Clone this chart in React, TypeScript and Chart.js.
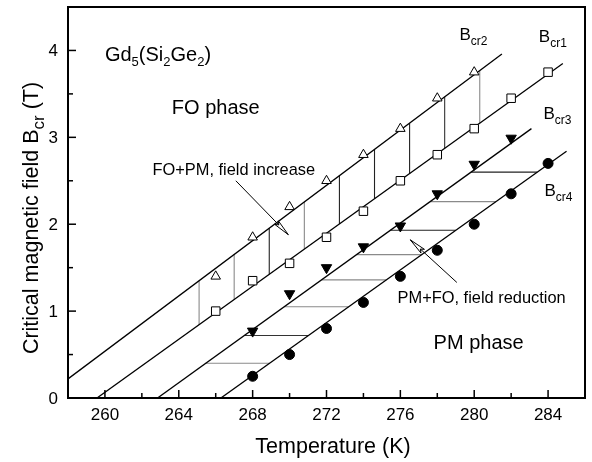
import React, { useEffect, useRef } from "react";
import { Chart, registerables } from "chart.js";

Chart.register(...registerables);

// ---------- data ----------
const xTickValues = [260, 264, 268, 272, 276, 280, 284];
const yTickValues = [0, 1, 2, 3, 4];
const X_RANGE = [258, 286];
const Y_RANGE = [0, 4.5];

// B_cr2 (open up-triangles)
const bcr2T = [266, 268, 270, 272, 274, 276, 278, 280];
const bcr2B = [1.4, 1.85, 2.2, 2.5, 2.8, 3.1, 3.45, 3.75];
// B_cr1 (open squares)
const bcr1T = [266, 268, 270, 272, 274, 276, 278, 280, 282, 284];
const bcr1B = [1.0, 1.35, 1.55, 1.85, 2.15, 2.5, 2.8, 3.1, 3.45, 3.75];
// B_cr3 (filled down-triangles)
const bcr3T = [268, 270, 272, 274, 276, 278, 280, 282];
const bcr3B = [0.77, 1.2, 1.5, 1.74, 1.98, 2.35, 2.69, 2.99];
// B_cr4 (filled circles)
const bcr4T = [268, 270, 272, 274, 276, 278, 280, 282, 284];
const bcr4B = [0.25, 0.5, 0.8, 1.1, 1.4, 1.7, 2.0, 2.35, 2.7];

// fitted straight lines: [T start, B start, T end, B end]
const fitBcr2 = [258, 0.22, 281.5, 3.96];
const fitBcr1 = [259.57, 0, 284.8, 3.85];
const fitBcr3 = [262.85, 0, 283.1, 3.1];
const fitBcr4 = [266.28, 0, 285.0, 2.84];

// hatch: vertical lines (FO+PM, field increase) between Bcr1 and Bcr2
const hatchT = [265.1, 267.0, 268.9, 270.8, 272.7, 274.6, 276.5, 278.4, 280.3];
// hatch: horizontal lines (PM+FO, field reduction) between Bcr3 and Bcr4
const hatchB = [0.4, 0.72, 1.05, 1.36, 1.65, 1.93, 2.26, 2.6];

// ---------- styles ----------
const FONT = '"Liberation Sans", Arial, Helvetica, sans-serif';
const hatchTShade = ["#8a8a8a", "#8a8a8a", "#222", "#8a8a8a", "#222", "#222", "#222", "#333", "#8a8a8a"];
const hatchBShade = ["#8a8a8a", "#333", "#8a8a8a", "#8a8a8a", "#8a8a8a", "#222", "#8a8a8a", "#222"];

function lineAtT(f: number[], t: number) {
  return f[1] + ((f[3] - f[1]) / (f[2] - f[0])) * (t - f[0]);
}
function lineAtB(f: number[], b: number) {
  return f[0] + ((f[2] - f[0]) / (f[3] - f[1])) * (b - f[1]);
}
function pts(t: number[], b: number[]) {
  return t.map((v, i) => ({ x: v, y: b[i] }));
}

type Seg = { t: string; sub?: boolean };

function drawRich(ctx: CanvasRenderingContext2D, segs: Seg[], x: number, y: number, size: number, align: string, subSize?: number) {
  const ss = subSize || Math.round(size * 0.68);
  const widths = segs.map((s) => {
    ctx.font = `${s.sub ? ss : size}px ${FONT}`;
    return ctx.measureText(s.t).width;
  });
  const total = widths.reduce((a, b) => a + b, 0);
  let cx = align === "center" ? x - total / 2 : align === "right" ? x - total : x;
  ctx.textAlign = "left";
  ctx.textBaseline = "alphabetic";
  segs.forEach((s, i) => {
    ctx.font = `${s.sub ? ss : size}px ${FONT}`;
    ctx.fillText(s.t, cx, s.sub ? y + size * 0.28 : y);
    cx += widths[i];
  });
}

function arrow(ctx: CanvasRenderingContext2D, x0: number, y0: number, x1: number, y1: number) {
  ctx.beginPath();
  ctx.moveTo(x0, y0);
  ctx.lineTo(x1, y1);
  ctx.stroke();
  const a = Math.atan2(y1 - y0, x1 - x0);
  const L = 17, W = 0.15;
  ctx.beginPath();
  ctx.moveTo(x1, y1);
  ctx.lineTo(x1 - L * Math.cos(a - W), y1 - L * Math.sin(a - W));
  ctx.lineTo(x1 - L * 0.8 * Math.cos(a), y1 - L * 0.8 * Math.sin(a));
  ctx.lineTo(x1 - L * Math.cos(a + W), y1 - L * Math.sin(a + W));
  ctx.closePath();
  ctx.fillStyle = "#fff";
  ctx.fill();
  ctx.stroke();
}

const decorPlugin = {
  id: "decor",
  afterDatasetsDraw(chart: any) {
    const ctx: CanvasRenderingContext2D = chart.ctx;
    const { left, right, top, bottom } = chart.chartArea;
    const xs = chart.scales.x;
    const ys = chart.scales.y;
    const X = (v: number) => xs.getPixelForValue(v);
    const Y = (v: number) => ys.getPixelForValue(v);
    ctx.save();
    ctx.strokeStyle = "#000";
    ctx.fillStyle = "#000";
    // inner ticks
    ctx.lineWidth = 1.5;
    for (let v = 260; v <= 284; v += 2) {
      const len = v % 4 === 0 ? 8 : 5;
      ctx.beginPath();
      ctx.moveTo(X(v), bottom);
      ctx.lineTo(X(v), bottom - len);
      ctx.stroke();
    }
    for (let v = 0.5; v <= 4; v += 0.5) {
      const len = Number.isInteger(v) ? 8 : 5;
      ctx.beginPath();
      ctx.moveTo(left, Y(v));
      ctx.lineTo(left + len, Y(v));
      ctx.stroke();
    }
    // frame
    ctx.lineWidth = 2;
    ctx.strokeRect(left, top, right - left, bottom - top);

    // tick labels (from the scales' ticks)
    ctx.fillStyle = "#000";
    xs.ticks.forEach((t: any) => {
      drawRich(ctx, [{ t: String(t.value) }], X(t.value), bottom + 22, 17, "center");
    });
    ys.ticks.forEach((t: any) => {
      drawRich(ctx, [{ t: String(t.value) }], left - 10, Y(t.value) + 6, 17, "right");
    });

    // arrows
    ctx.lineWidth = 1;
    arrow(ctx, X(267.09), Y(2.5), X(269.93), Y(1.88));
    arrow(ctx, X(279.06), Y(1.33), X(276.54), Y(1.82));

    ctx.fillStyle = "#000";
    drawRich(ctx, [{ t: "Gd" }, { t: "5", sub: true }, { t: "(Si" }, { t: "2", sub: true }, { t: "Ge" }, { t: "2", sub: true }, { t: ")" }], X(260.0), Y(3.88), 20, "left", 13);
    drawRich(ctx, [{ t: "FO phase" }], X(266.0), Y(3.27), 20, "center");
    drawRich(ctx, [{ t: "PM phase" }], X(280.24), Y(0.56), 20, "center");
    drawRich(ctx, [{ t: "FO+PM, field increase" }], X(266.98), Y(2.57), 16.4, "center");
    drawRich(ctx, [{ t: "PM+FO, field reduction" }], X(280.4), Y(1.09), 16.4, "center");
    drawRich(ctx, [{ t: "B" }, { t: "cr2", sub: true }], X(279.2), Y(4.12), 17, "left", 12);
    drawRich(ctx, [{ t: "B" }, { t: "cr1", sub: true }], X(283.5), Y(4.1), 17, "left", 12);
    drawRich(ctx, [{ t: "B" }, { t: "cr3", sub: true }], X(283.75), Y(3.21), 17, "left", 12);
    drawRich(ctx, [{ t: "B" }, { t: "cr4", sub: true }], X(283.8), Y(2.32), 17, "left", 12);

    // axis titles
    drawRich(ctx, [{ t: "Temperature (K)" }], 333, 453, 21.5, "center");
    ctx.save();
    ctx.translate(38, 218);
    ctx.rotate(-Math.PI / 2);
    drawRich(ctx, [{ t: "Critical magnetic field B" }, { t: "cr", sub: true }, { t: " (T)" }], 0, 0, 21.5, "center", 17);
    ctx.restore();
    ctx.restore();
  },
};

export default function App() {
  const ref = useRef<HTMLCanvasElement>(null);
  useEffect(() => {
    if (!ref.current) return;
    const lineDs = (f: number[]) => ({
      data: [{ x: f[0], y: f[1] }, { x: f[2], y: f[3] }],
      showLine: true,
      borderColor: "#000",
      borderWidth: 1.3,
      pointRadius: 0,
      order: 5,
    });
    const hatchV = hatchT.map((t, i) => ({
      data: [{ x: t, y: lineAtT(fitBcr1, t) }, { x: t, y: lineAtT(fitBcr2, t) }],
      showLine: true,
      borderColor: hatchTShade[i],
      borderWidth: 1.1,
      pointRadius: 0,
      order: 6,
    }));
    const hatchH = hatchB.map((b, i) => ({
      data: [{ x: lineAtB(fitBcr3, b), y: b }, { x: lineAtB(fitBcr4, b), y: b }],
      showLine: true,
      borderColor: hatchBShade[i],
      borderWidth: 1.1,
      pointRadius: 0,
      order: 6,
    }));
    const chart = new Chart(ref.current, {
      type: "scatter",
      data: {
        datasets: [
          ...hatchV,
          ...hatchH,
          lineDs(fitBcr2),
          lineDs(fitBcr1),
          lineDs(fitBcr3),
          lineDs(fitBcr4),
          {
            data: pts(bcr2T, bcr2B),
            pointStyle: "triangle",
            pointRadius: 5.5,
            backgroundColor: "#fff",
            borderColor: "#000",
            borderWidth: 1,
            order: 1,
          },
          {
            data: pts(bcr1T, bcr1B),
            pointStyle: "rect",
            pointRadius: 6,
            backgroundColor: "#fff",
            borderColor: "#000",
            borderWidth: 1,
            order: 1,
          },
          {
            data: pts(bcr3T, bcr3B),
            pointStyle: "triangle",
            rotation: 180,
            pointRadius: 6,
            backgroundColor: "#000",
            borderColor: "#000",
            borderWidth: 1,
            order: 1,
          },
          {
            data: pts(bcr4T, bcr4B),
            pointStyle: "circle",
            pointRadius: 5,
            backgroundColor: "#000",
            borderColor: "#000",
            borderWidth: 1,
            order: 1,
          },
        ] as any,
      },
      options: {
        animation: false,
        responsive: false,
        events: [],
        layout: { padding: { top: 5, right: 4, left: 0, bottom: 0 } },
        plugins: { legend: { display: false }, tooltip: { enabled: false } },
        scales: {
          x: {
            type: "linear",
            min: X_RANGE[0],
            max: X_RANGE[1],
            afterBuildTicks: (s: any) => {
              s.ticks = xTickValues.map((v) => ({ value: v }));
            },
            afterFit: (s: any) => {
              s.height = 64;
            },
            grid: { display: false, drawTicks: false },
            border: { display: false },
            ticks: { display: false },
          },
          y: {
            type: "linear",
            min: Y_RANGE[0],
            max: Y_RANGE[1],
            afterBuildTicks: (s: any) => {
              s.ticks = yTickValues.map((v) => ({ value: v }));
            },
            afterFit: (s: any) => {
              s.width = 68;
            },
            grid: { display: false, drawTicks: false },
            border: { display: false },
            ticks: { display: false },
          },
        },
      } as any,
      plugins: [decorPlugin],
    });
    return () => chart.destroy();
  }, []);
  return (
    <div style={{ position: "absolute", left: 0, top: 0, width: 592, height: 462, background: "#fff" }}>
      <canvas ref={ref} width={592} height={462} style={{ display: "block" }} />
    </div>
  );
}
